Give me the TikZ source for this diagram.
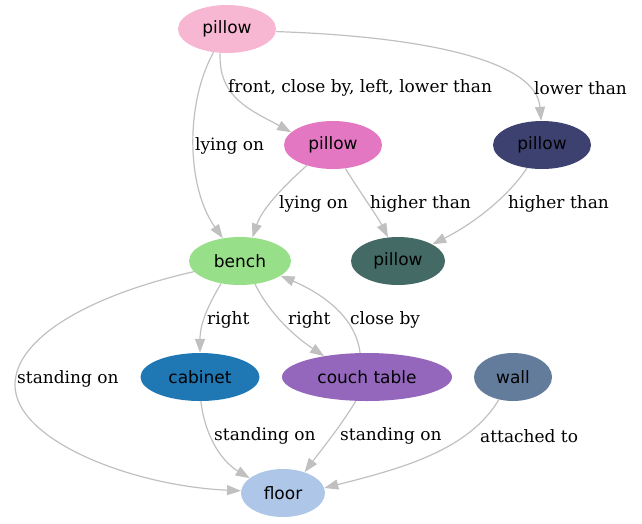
\documentclass[tikz,border=0pt]{standalone}
\usepackage{fontspec}
\setmainfont{DejaVu Serif}
\newfontfamily\nodefont{DejaVu Sans}
\usetikzlibrary{arrows.meta,shapes.geometric}
\definecolor{cTp}{HTML}{F7B6D2}
\definecolor{cMp}{HTML}{E377C2}
\definecolor{cRp}{HTML}{3C416F}
\definecolor{cTl}{HTML}{436A64}
\definecolor{cBe}{HTML}{98DF8A}
\definecolor{cCa}{HTML}{1F77B4}
\definecolor{cCt}{HTML}{9467BD}
\definecolor{cWa}{HTML}{637C9B}
\definecolor{cFl}{HTML}{AEC7E8}
\definecolor{cEd}{HTML}{C0C0C0}
\tikzset{
  obj/.style={ellipse, inner sep=0pt, minimum height=48pt, font=\nodefont\fontsize{17}{20}\selectfont, text=black},
  rel/.style={draw=cEd, line width=1.2pt, -{Triangle[length=14pt,width=10pt,fill=cEd]}},
  lbl/.style={anchor=west, inner sep=0pt, yshift=-2pt, font=\fontsize{17}{20}\selectfont}
}
\begin{document}
\begin{tikzpicture}[x=1pt,y=-1pt]
\useasboundingbox (0,0) rectangle (642,523);
\node[obj, fill=cTp, minimum width=98pt] (tp) at (227,29) {pillow};
\node[obj, fill=cMp, minimum width=98pt] (mp) at (333,145) {pillow};
\node[obj, fill=cRp, minimum width=98pt] (rp) at (542,145) {pillow};
\node[obj, fill=cBe, minimum width=102pt] (be) at (240,261) {bench};
\node[obj, fill=cTl, minimum width=94pt] (tl) at (398,261) {pillow};
\node[obj, fill=cCa, minimum width=119pt] (ca) at (200,377) {cabinet};
\node[obj, fill=cCt, minimum width=170pt] (ct) at (367,377) {couch table};
\node[obj, fill=cWa, minimum width=78pt] (wa) at (513,377) {wall};
\node[obj, fill=cFl, minimum width=84pt] (fl) at (283,493) {floor};

\draw[rel] (tp.-106) .. controls +(-2,45) and +(-40,-22) .. (mp.163);
\draw[rel] (tp.-3.5) .. controls +(150,5) and +(-5,-60) .. (rp.92);
\draw[rel] (tp.-120) .. controls +(-28,50) and +(-37,-52) .. (be.127);
\draw[rel] (mp.-142) .. controls +(-20,18) and +(10,-30) .. (be.62);
\draw[rel] (mp.-62) .. controls +(12,20) and +(-10,-20) .. (tl.113);
\draw[rel] (rp.-123) .. controls +(-20,30) and +(40,-20) .. (tl.26);
\draw[rel] (be.-167) .. controls +(-110,25) and +(0,-45) .. (15,385) .. controls +(0,55) and +(-110,-5) .. (fl.177);
\draw[rel] (be.-130) .. controls +(-12,20) and +(0,-30) .. (ca.90);
\draw[rel] (be.-57) .. controls +(15,30) and +(-30,-20) .. (ct.154);
\draw[rel] (ct.106) .. controls +(-5,-40) and +(35,15) .. (be.-20);
\draw[rel] (ca.-88) .. controls +(5,40) and +(-25,-15) .. (fl.156);
\draw[rel] (ct.-115) .. controls +(-15,25) and +(15,-20) .. (fl.44);
\draw[rel] (wa.-122) .. controls +(-30,50) and +(80,-20) .. (fl.7);

\node[lbl] (l1) at (228,86) {front, close by, left, lower than};
\node[lbl] (l2) at (534,86) {lower than};
\node[lbl] (l3) at (195,144) {lying on};
\node[lbl] (l4) at (279,202) {lying on};
\node[lbl] (l5) at (370,202) {higher than};
\node[lbl] (l6) at (508,202) {higher than};
\node[lbl] (l7) at (17,377) {standing on};
\node[lbl] (l8) at (207,318) {right};
\node[lbl] (l9) at (288,318) {right};
\node[lbl] (l10) at (350,318) {close by};
\node[lbl] (l11) at (214,434) {standing on};
\node[lbl] (l12) at (340,434) {standing on};
\node[lbl] (l13) at (480,434) {attached to};
\end{tikzpicture}
\end{document}
